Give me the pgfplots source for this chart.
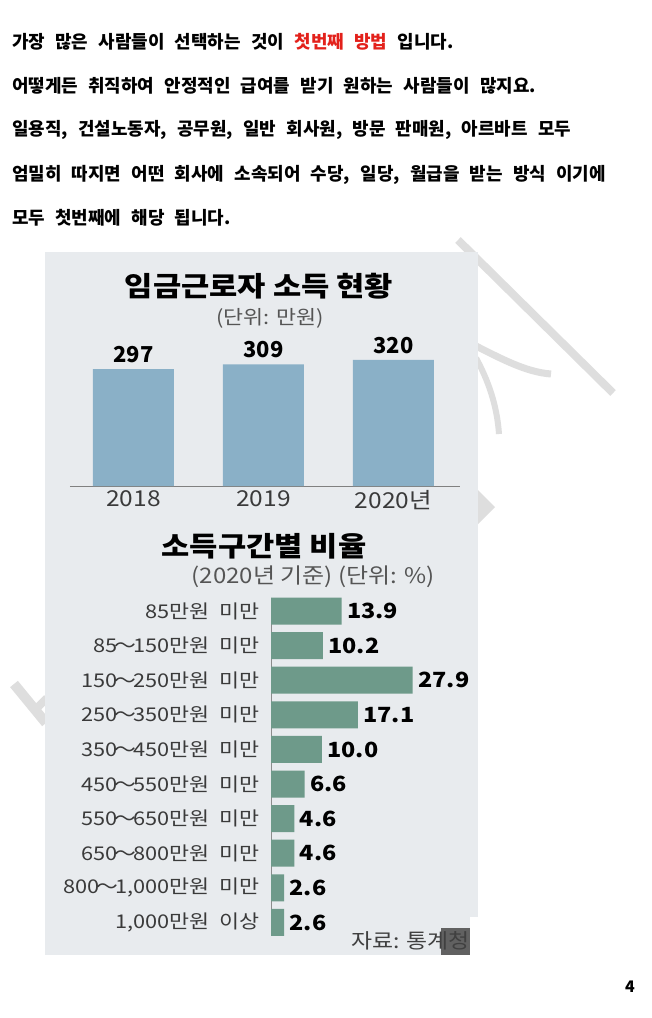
\documentclass[border=0pt]{standalone}
\usepackage{fontspec}
\setmainfont{Noto Sans CJK KR}
\newfontfamily\body{Noto Sans CJK KR}[WordSpace=2.5]
\newfontfamily\info{Noto Sans CJK KR}[FakeStretch=1.12, WordSpace=2]
\newfontfamily\infot{Noto Sans CJK KR}[FakeStretch=1.12]
\newfontfamily\infol{Noto Sans CJK KR}[FakeStretch=1.15, WordSpace=2]
\newcommand\tl{\kern-3bp～\kern-3bp}
\usepackage{pgfplots}
\pgfplotsset{compat=1.18}
\definecolor{panel}{HTML}{E8EBEE}
\definecolor{barblue}{HTML}{8AB0C7}
\definecolor{bargreen}{HTML}{6E9A8A}
\definecolor{wm}{HTML}{DEDEDE}
\definecolor{redtxt}{HTML}{E3211B}
\definecolor{txtgrey}{HTML}{3A3A3A}
\definecolor{subgrey}{HTML}{555555}

\begin{document}
\begin{tikzpicture}
\fill[white] (0,0) rectangle (652bp,-1018bp);

% text above the picture
\begin{scope}[every node/.style={anchor=west, inner sep=0pt, font=\body\fontsize{18}{21}\selectfont\bfseries}]
\node at (12bp,-42bp) {가장 많은 사람들이 선택하는 것이 \textcolor{redtxt}{첫번째 방법} 입니다.};
\node at (12bp,-86bp) {어떻게든 취직하여 안정적인 급여를 받기 원하는 사람들이 많지요.};
\node at (12bp,-130bp) {일용직, 건설노동자, 공무원, 일반 회사원, 방문 판매원, 아르바트 모두};
\node at (12bp,-175bp) {엄밀히 따지면 어떤 회사에 소속되어 수당, 일당, 월급을 받는 방식 이기에};
\node at (12bp,-218bp) {모두 첫번째에 해당 됩니다.};
\end{scope}

% watermark
\draw[wm, line width=8bp] (458bp,-240bp) -- (613bp,-393bp);
\draw[wm, line width=7bp] (470bp,-343bp) .. controls (500bp,-358bp) and (525bp,-372bp) .. (551bp,-374bp);
\draw[wm, line width=6bp] (476bp,-358bp) .. controls (488bp,-380bp) and (497bp,-405bp) .. (499bp,-434bp);
\fill[wm] (478bp,-490bp) -- (495bp,-507bp) -- (478bp,-524bp) -- cycle;
\draw[wm, line width=10bp] (14bp,-684bp) -- (46bp,-723bp);
\draw[wm, line width=8bp] (33bp,-712bp) -- (47bp,-698bp);

% panel
\fill[panel] (45bp,-252bp) rectangle (478bp,-955bp);
\fill[white] (470bp,-917bp) rectangle (478.5bp,-955.5bp);
\fill[black!62] (441bp,-928bp) rectangle (470bp,-955bp);

\node[font=\infot\fontsize{27.5}{30}\selectfont\bfseries] at (259bp,-286bp) {임금근로자 소득 현황};
\node[font=\info\fontsize{19.5}{22}\selectfont, text=subgrey] at (270bp,-318bp) {(단위: 만원)};

\begin{axis}[
  at={(70bp,-486bp)}, anchor=south west,
  scale only axis, width=390bp, height=156bp,
  xmin=-0.488, xmax=2.512, ymin=0, ymax=396,
  ybar, bar width=81bp,
  axis x line=bottom, axis y line=none,
  x axis line style={draw=black!50, line width=0.8pt, -},
  xtick={0,1,2}, xticklabels={2018,2019,2020년},
  major tick length=0pt,
  xticklabel style={font=\info\fontsize{22}{24}\selectfont, text=txtgrey, anchor=north, yshift=-1bp},
  nodes near coords,
  nodes near coords style={font=\fontsize{22}{24}\selectfont\bfseries, anchor=south, yshift=2.5bp, text=black},
  /pgf/number format/assume math mode=true,
  clip=false,
]
\addplot[fill=barblue, draw=none] coordinates {(0,297) (1,309) (2,320)};
\end{axis}

\node[font=\infot\fontsize{27.5}{30}\selectfont\bfseries] at (264bp,-546bp) {소득구간별 비율};
\node[font=\info\fontsize{21.5}{23}\selectfont, text=subgrey] at (313bp,-577bp) {(2020년 기준) (단위: \%)};

\begin{axis}[
  at={(271bp,-597.5bp)}, anchor=north west,
  scale only axis, width=167.64bp, height=338.4bp,
  xmin=0, xmax=33, ymin=-0.39, ymax=9.39, y dir=reverse,
  xbar, bar width=27bp,
  axis x line=none, axis y line=left,
  y axis line style={draw=black!45, line width=0.6pt, -},
  ytick={0,...,9},
  yticklabels={{85만원 미만},{85\tl150만원 미만},{150\tl250만원 미만},{250\tl350만원 미만},{350\tl450만원 미만},{450\tl550만원 미만},{550\tl650만원 미만},{650\tl800만원 미만},{800\tl1,000만원 미만},{1,000만원 이상}},
  major tick length=0pt,
  yticklabel style={font=\infol\fontsize{19}{21}\selectfont, text=txtgrey, anchor=east, inner sep=0pt, xshift=-11bp},
  nodes near coords={\pgfmathprintnumber[fixed,fixed zerofill,precision=1,assume math mode=true]{\pgfplotspointmeta}},
  nodes near coords style={font=\info\fontsize{21}{23}\selectfont\bfseries, anchor=west, xshift=2bp, text=black},
  clip=false,
]
\addplot[fill=bargreen, draw=none] coordinates {(13.9,0) (10.2,1) (27.9,2) (17.1,3) (10.0,4) (6.6,5) (4.6,6) (4.6,7) (2.6,8) (2.6,9)};
\end{axis}

\node[anchor=east, inner sep=0pt, font=\info\fontsize{20.5}{22}\selectfont, text=black!75] at (470bp,-941bp) {자료: 통계청};

\node[font=\fontsize{16}{18}\selectfont\bfseries] at (630bp,-987bp) {4};

\pgfresetboundingbox
\path[use as bounding box] (0,0) rectangle (652bp,-1018bp);
\end{tikzpicture}
\end{document}
